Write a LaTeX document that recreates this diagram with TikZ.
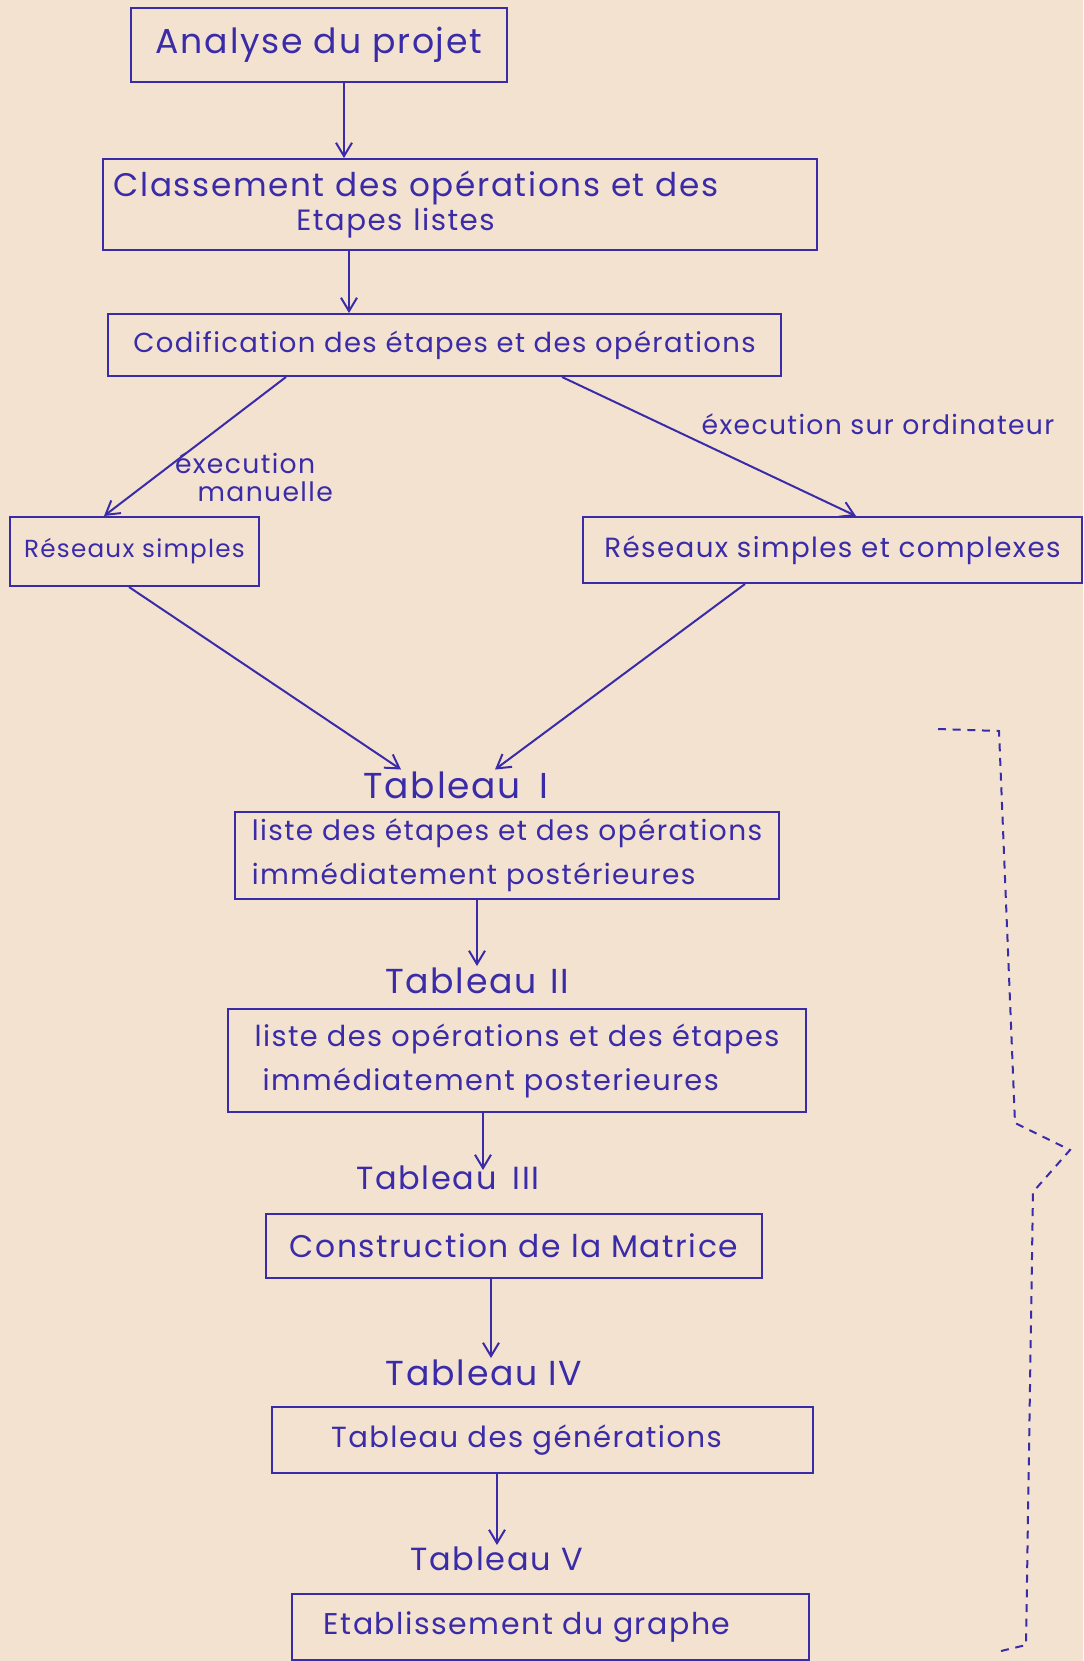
\documentclass[tikz,border=0pt]{standalone}
\usepackage{fontspec}
\setmainfont{Poppins}[LetterSpace=5]
\usetikzlibrary{arrows.meta,calc}

\definecolor{ink}{RGB}{58,44,168}
\definecolor{paper}{RGB}{244,226,208}

\tikzset{every picture/.style={line width=1.5pt}}
\tikzset{
  box/.style={draw=ink, text=ink, inner sep=0pt, align=center},
  lbl/.style={text=ink, inner sep=0.75pt},
  arr/.style={draw=ink, -{Straight Barb[length=10pt,width=12pt]}},
  fs/.style={font=\fontsize{#1}{33}\selectfont},
}

\begin{document}
\begin{tikzpicture}[x=0.75pt,y=0.75pt,yscale=-1,xscale=1]
\fill [paper] (0,0) rectangle (1083,1661);
\useasboundingbox (0,0) rectangle (1083,1661);

% Boxes
\node [box, fs=26, minimum width=282pt, minimum height=55.5pt] (ana) at (319,45) {Analyse du projet};
\node [box, font=\fontsize{24.5}{25}\selectfont, minimum height=68.25pt, text width=519.5pt, inner xsep=8pt, align=left] (cls) at (460,204.5) {Classement des opérations et des\\\hspace*{137pt}{\fontsize{22}{25}\selectfont Etapes listes}};
\node [box, fs=20.6, minimum width=504.75pt, minimum height=46.5pt] (cod) at (444.5,345) {Codification des étapes et des opérations};
\node [box, fs=18.5, minimum width=186.75pt, minimum height=51.75pt] (rs) at (134.5,551.5) {Réseaux simples};
\node [box, fs=20.8, minimum width=374.25pt, minimum height=49.5pt] (rc) at (832.5,550) {Réseaux simples et complexes};
\node [box, fs=21, minimum width=408pt, minimum height=65.25pt, align=left] (l1) at (507,855.5) {liste des étapes et des opérations\\immédiatement postérieures};
\node [box, fs=21.6, minimum width=433.5pt, minimum height=77.25pt, align=left] (l2) at (517,1060.5) {liste des opérations et des étapes\\\hspace*{6pt}immédiatement posterieures};
\node [box, fs=23.5, minimum width=372pt, minimum height=48pt] (con) at (514,1246) {Construction de la Matrice};
\node [box, fs=21.8, minimum width=405.75pt, minimum height=49.5pt] (gen) at (542.5,1440) {\hspace*{-24pt}Tableau des générations};
\node [box, fs=22.5, minimum width=387.75pt, minimum height=49.5pt] (eta) at (550.5,1627) {\hspace*{-35pt}Etablissement du graphe};

% Text Node
\node [lbl, fs=27] (t1) at (456,785) {Tableau\hspace{14pt}I};
\node [lbl, fs=26] (t2) at (477,981) {Tableau\hspace{10pt}II};
\node [lbl, fs=24] (t3) at (448,1178) {Tableau\hspace{12pt}III};
\node [lbl, fs=26] (t4) at (484,1373) {Tableau\hspace{8pt}IV};
\node [lbl, fs=24] (t5) at (497,1559) {Tableau\hspace{8pt}V};
\node [lbl, font=\fontsize{20}{21}\selectfont, anchor=west, align=left] (man) at (173,477) {éxecution\\\hspace*{17pt}manuelle};
\node [lbl, fs=20] (ord) at (878,424) {éxecution sur ordinateur};

%Straight Lines
\draw [arr] ($(ana.south)+(25,0)$) -- ($(cls.north)+(-116,0)$);
\draw [arr] ($(cls.south)+(-111,0)$) -- ($(cod.north)+(-95.5,0)$);
\draw [arr] ($(cod.south)+(-158.5,0)$) -- ($(rs.north)+(-30.5,0)$);
\draw [arr] ($(cod.south)+(117.5,0)$) -- ($(rc.north)+(23.5,0)$);
\draw [arr] ($(rs.south)+(-5.5,0)$) -- ($(t1.north)+(-55,0)$);
\draw [arr] ($(rc.south)+(-87.5,0)$) -- ($(t1.north)+(39,0)$);
\draw [arr] ($(l1.south)+(-30,0)$) -- (t2.north);
\draw [arr] ($(l2.south)+(-34,0)$) -- ($(t3.north)+(35,6)$);
\draw [arr] ($(con.south)+(-23,0)$) -- ($(t4.north)+(7,0)$);
\draw [arr] ($(gen.south)+(-45.5,0)$) -- (t5.north);

%Dashed brace
\draw [ink, dash pattern={on 6pt off 5pt}] (938,729) -- (999,731) -- (1015,1123) -- (1070,1150) -- (1033,1192) -- (1026,1645) -- (1001,1651);

\end{tikzpicture}
\end{document}
